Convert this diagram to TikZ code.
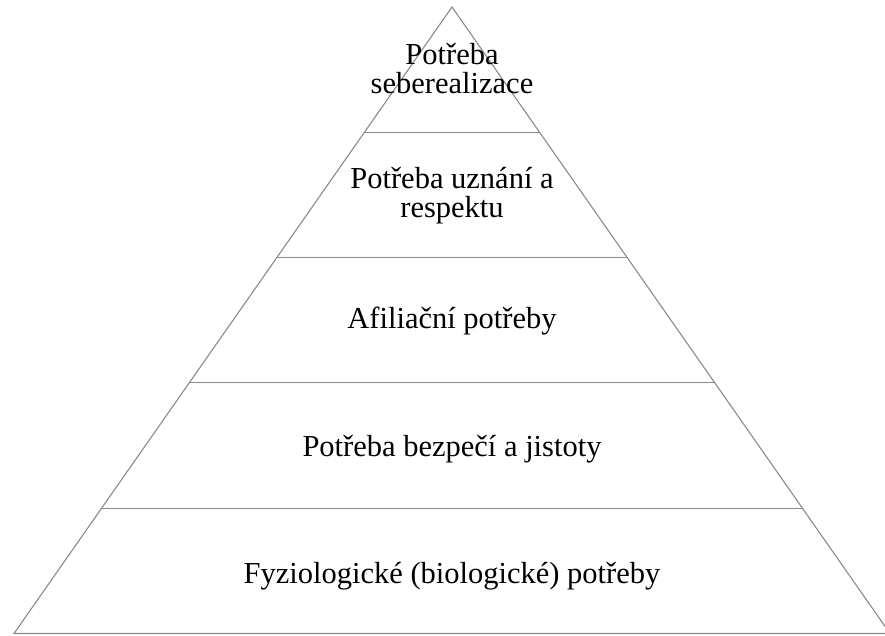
\documentclass[tikz,border=0pt]{standalone}
\usepackage{fontspec}
\setmainfont{Liberation Serif}
\usepackage{tikz}
\usetikzlibrary{calc}
\definecolor{edgegray}{HTML}{8A8A8A}
\tikzset{
  tier/.style   ={font=\fontsize{30.5}{29}\selectfont, align=center, text=black, inner sep=0pt, anchor=base},
  outline/.style={draw=edgegray, line width=1.1pt, line join=miter},
}

\begin{document}
\begin{tikzpicture}[x=1pt,y=-1pt]
\clip (0,0) rectangle (885,635);
% pyramid corners
\coordinate (apex) at (452,7);
\coordinate (bl)   at (14,633.5);
\coordinate (br)   at (890,633.5);
\draw[outline] (bl) -- (apex) -- (br) -- cycle;
% tier borders
\foreach \i in {1,...,4} {
  \draw[outline] ($(apex)!\i/5!(bl)$) -- ($(apex)!\i/5!(br)$);
}
% labels, top to bottom (base = last line)
\node[tier] (self)   at (452,93)  {Potřeba\\seberealizace};
\node[tier] (esteem) at (452,217) {Potřeba uznání a\\respektu};
\node[tier] (love)   at (452,328) {Afiliační potřeby};
\node[tier] (safety) at (452,456) {Potřeba bezpečí a jistoty};
\node[tier] (body)   at (452,583) {Fyziologické (biologické) potřeby};
\end{tikzpicture}
\end{document}
